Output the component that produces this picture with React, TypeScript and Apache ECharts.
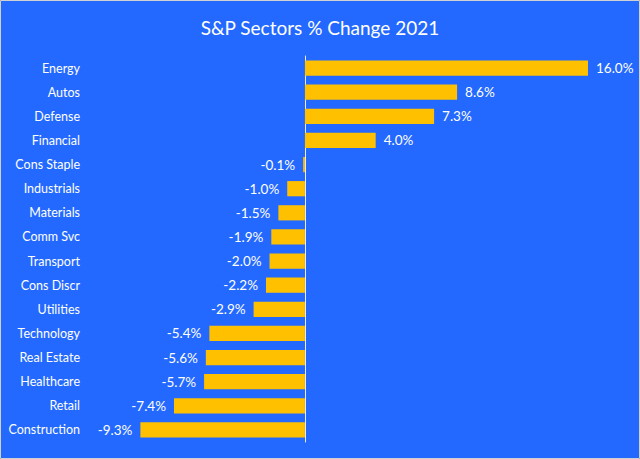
import React, { useEffect, useRef } from "react";
import * as echarts from "echarts";

const categories = [
  "Energy", "Autos", "Defense", "Financial", "Cons Staple", "Industrials",
  "Materials", "Comm Svc", "Transport", "Cons Discr", "Utilities",
  "Technology", "Real Estate", "Healthcare", "Retail", "Construction",
];
const values = [16.0, 8.6, 7.3, 4.0, -0.1, -1.0, -1.5, -1.9, -2.0, -2.2, -2.9, -5.4, -5.6, -5.7, -7.4, -9.3];
const titleText = "S&P Sectors % Change 2021";

const FONT = "Lato, 'Noto Sans', sans-serif";

export default function App() {
  const ref = useRef<HTMLDivElement>(null);
  useEffect(() => {
    const chart = echarts.init(ref.current!, null, { renderer: "svg" });
    chart.setOption({
      animation: false,
      backgroundColor: "#2369ff",
      title: {
        text: titleText,
        left: "center",
        top: 13,
        textStyle: { color: "#ffffff", fontSize: 19, fontWeight: "normal", fontFamily: FONT },
      },
      graphic: [
        {
          type: "rect",
          shape: { x: 0.5, y: 0.5, width: 639, height: 458 },
          style: { fill: "none", stroke: "#d0d0d0", lineWidth: 1 },
          silent: true,
        },
      ],
      grid: { left: 128, right: 52, top: 56, height: 386 },
      xAxis: {
        type: "value",
        min: -10,
        max: 16,
        show: false,
        splitLine: { show: false },
      },
      yAxis: {
        type: "category",
        data: categories,
        inverse: true,
        axisTick: { show: false },
        axisLine: { show: true, onZero: true, lineStyle: { color: "#f2ead8", width: 1 } },
        axisLabel: { color: "#ffffff", fontSize: 12.5, fontFamily: FONT, margin: 48 },
        splitLine: { show: false },
      },
      series: [
        {
          type: "bar",
          barCategoryGap: "37%",
          itemStyle: { color: "#ffc000" },
          data: values.map((v) => ({
            value: v,
            label: { position: v >= 0 ? "right" : "left" },
          })),
          label: {
            show: true,
            color: "#ffffff",
            fontSize: 13.5,
            fontFamily: FONT,
            distance: 8,
            formatter: (p: any) => p.value.toFixed(1) + "%",
          },
        },
      ],
    });
    return () => chart.dispose();
  }, []);
  return (
    <div
      ref={ref}
      style={{ position: "fixed", left: 0, top: 0, width: 640, height: 459 }}
    />
  );
}
